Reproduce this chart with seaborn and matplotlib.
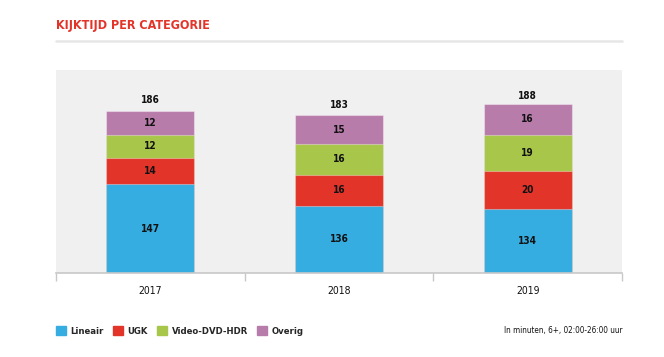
import matplotlib
matplotlib.use("Agg")
import matplotlib.pyplot as plt
import seaborn as sns
import numpy as np
import pandas as pd
from matplotlib.patches import Rectangle

years = ["2017", "2018", "2019"]
lineair = [147, 136, 134]
ugk = [14, 16, 20]
video = [12, 16, 19]
overig = [12, 15, 16]
totals = [186, 183, 188]
series_names = ["Lineair", "UGK", "Video-DVD-HDR", "Overig"]
colors = ["#35ade0", "#e3342a", "#a8c64a", "#b87cab"]
title = "KIJKTIJD PER CATEGORIE"
note = "In minuten, 6+, 02:00-26:00 uur"

sns.set_theme(style="white")
plt.rcParams["font.family"] = ["DejaVu Sans"]
plt.rcParams["font.stretch"] = "condensed"

fig = plt.figure(figsize=(6.64, 3.57), dpi=100)
ax = fig.add_axes([56/664, 1-273/357, (622-56)/664, (273-70)/357])
ax.set_facecolor("#f0f0f0")

vals = [lineair, ugk, video, overig]
cum = np.cumsum(np.array(vals), axis=0)
df = pd.DataFrame({"year": years})
for i in range(3, -1, -1):
    df["c"] = cum[i]
    sns.barplot(data=df, x="year", y="c", color=colors[i], width=0.466,
                saturation=1, ax=ax, edgecolor=(1, 1, 1, 0.35), linewidth=0.8)

ybot = 100.9
for j in range(3):
    base = 0
    for i in range(4):
        v = vals[i][j]
        lo = max(base, ybot)
        hi = base + v
        ax.text(j, (lo + hi) / 2, str(v), ha="center", va="center",
                fontsize=7.2, fontweight="bold", color="#111111")
        base += v
    ax.text(j, totals[j] + 5.2, str(totals[j]), ha="center", va="center",
            fontsize=7.2, fontweight="bold", color="#111111")

ax.set_ylim(ybot, 206.6)
ax.set_xlim(-0.5, 2.5)
ax.set_yticks([])
ax.set_xlabel("")
ax.set_ylabel("")
for s in ["top", "left", "right"]:
    ax.spines[s].set_visible(False)
ax.spines["bottom"].set_color("#c8c8c8")
ax.spines["bottom"].set_linewidth(1.2)
ax.set_xticks([0, 1, 2])
ax.set_xticklabels(years, fontsize=7.5, color="#111111")
ax.tick_params(axis="x", length=0, pad=9)
ax.set_xticks([-0.5, 0.5, 1.5, 2.5], minor=True)
ax.tick_params(axis="x", which="minor", length=6, width=1, color="#c8c8c8",
               bottom=True)

fig.text(56/664, 1-25/357, title, color="#e3342a", fontsize=9,
         fontweight="bold", ha="left", va="center")
fig.add_artist(plt.Line2D([56/664, 622/664], [1-41/357, 1-41/357],
                          color="#e6e6e6", lw=1.8))

handles = [Rectangle((0, 0), 1, 1, color=c) for c in colors]
leg = fig.legend(handles, series_names, loc="center left",
                 bbox_to_anchor=(56/664, 1-331/357), ncol=4, frameon=False,
                 handlelength=1.05, handleheight=1.05, handletextpad=0.5,
                 borderpad=0, borderaxespad=0,
                 columnspacing=0.95, prop={"size": 6.8, "weight": "bold"})
fig.text(622/664, 1-331/357, note, ha="right", va="center", fontsize=5.9,
         color="#111111")

fig.savefig("out.png", dpi=100)
